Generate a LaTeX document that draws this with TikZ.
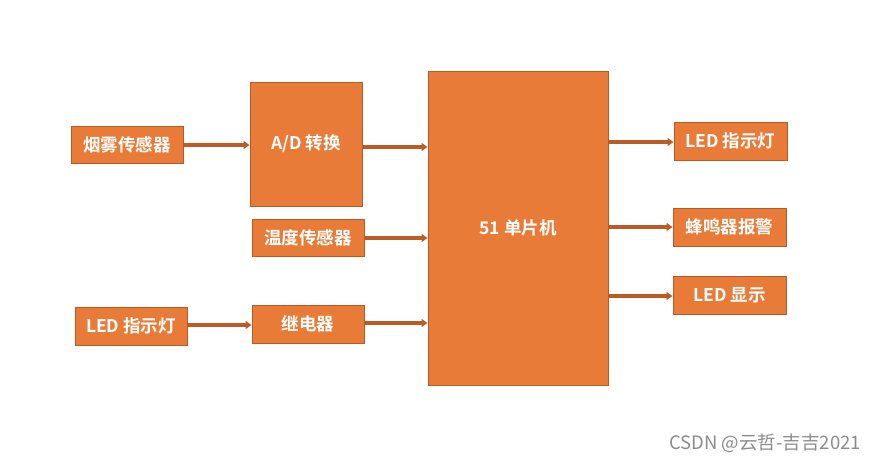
\documentclass[tikz,border=0pt]{standalone}
\usepackage{fontspec}
\newfontfamily\cjk{Noto Sans CJK SC}
\newfontfamily\cjkb{Noto Sans CJK SC Bold}
\usetikzlibrary{arrows.meta}
\definecolor{boxfill}{HTML}{E87B38}
\definecolor{boxline}{HTML}{B95A25}
\definecolor{arrowc}{HTML}{BC5B26}
\begin{document}
\begin{tikzpicture}[x=1pt,y=-1pt,
  blk/.style={draw=boxline, fill=boxfill, line width=1pt, text=white, inner sep=0pt,
    font=\cjkb\fontsize{17.5}{19}\selectfont},
  conn/.style={draw=arrowc, line width=3.2pt, -{Triangle[length=6pt,width=8pt]}},
]
\path[fill=white] (0,0) rectangle (877,469);
\useasboundingbox (0,0) rectangle (877,469);
\node[blk, minimum width=112pt, minimum height=37pt] (smoke) at (127,144.5) {烟雾传感器};
\node[blk, minimum width=112pt, minimum height=124pt] (ad) at (306,144) {A/D 转换};
\node[blk, minimum width=112pt, minimum height=37pt] (temp) at (308,237.5) {温度传感器};
\node[blk, minimum width=112pt, minimum height=38pt] (ledin) at (131,326) {LED 指示灯};
\node[blk, minimum width=112pt, minimum height=38pt] (relay) at (308,324) {继电器};
\node[blk, minimum width=180pt, minimum height=314pt] (mcu) at (518,228) {51 单片机};
\node[blk, minimum width=113pt, minimum height=38pt] (ledout) at (730.5,141) {LED 指示灯};
\node[blk, minimum width=113pt, minimum height=38pt] (buzz) at (729.5,227) {蜂鸣器报警};
\node[blk, minimum width=113pt, minimum height=38pt] (disp) at (729.5,295) {LED 显示};
\draw[conn] (smoke.east |- 0,145) -- (ad.west |- 0,145);
\draw[conn] (ad.east |- 0,147) -- (mcu.west |- 0,147);
\draw[conn] (temp.east |- 0,238) -- (mcu.west |- 0,238);
\draw[conn] (ledin.east |- 0,325) -- (relay.west |- 0,325);
\draw[conn] (relay.east |- 0,323) -- (mcu.west |- 0,323);
\draw[conn] (mcu.east |- 0,142) -- (ledout.west |- 0,142);
\draw[conn] (mcu.east |- 0,227) -- (buzz.west |- 0,227);
\draw[conn] (mcu.east |- 0,296) -- (disp.west |- 0,296);
\node[text=black!45, font=\cjk\fontsize{18.5}{20}\selectfont, anchor=east, inner sep=0pt] (wm) at (861,443) {CSDN @云哲-吉吉2021};
\end{tikzpicture}
\end{document}
